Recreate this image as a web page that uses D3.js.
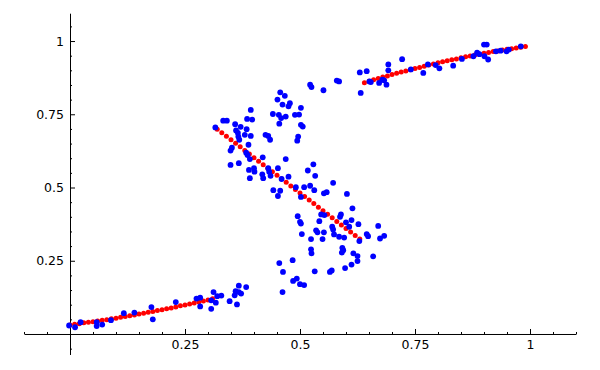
<!DOCTYPE html>
<html>
<head>
<meta charset="utf-8">
<script src="https://cdn.jsdelivr.net/npm/d3@7"></script>
<style>
    body { margin: 0; background: #fff; }
    .axis text { font-family: "DejaVu Sans", sans-serif; font-size: 12.5px; fill: #000; }
    .axis path, .axis line { stroke: #000; }
</style>
</head>
<body>
<div id="chart-area"></div>
<script>

// fitted curve, three branches (x, y)
var lowerBranch = [
    [0.00,0.031],[0.01,0.033],[0.02,0.035],[0.03,0.038],[0.04,0.040],[0.05,0.042],[0.06,0.044],[0.07,0.047],
    [0.08,0.049],[0.09,0.052],[0.10,0.054],[0.11,0.057],[0.12,0.060],[0.13,0.062],[0.14,0.065],[0.15,0.068],
    [0.16,0.071],[0.17,0.074],[0.18,0.077],[0.19,0.080],[0.20,0.083],[0.21,0.086],[0.22,0.089],[0.23,0.092],
    [0.24,0.096],[0.25,0.099],[0.26,0.102],[0.27,0.106],[0.28,0.109],[0.29,0.113],[0.30,0.116],[0.31,0.120]
];

var middleBranch = [
    [0.32,0.699],[0.33,0.687],[0.34,0.675],[0.35,0.663],[0.36,0.651],[0.37,0.639],[0.38,0.626],[0.39,0.614],
    [0.40,0.602],[0.41,0.590],[0.42,0.578],[0.43,0.566],[0.44,0.554],[0.45,0.542],[0.46,0.530],[0.47,0.518],
    [0.48,0.505],[0.49,0.493],[0.50,0.481],[0.51,0.469],[0.52,0.457],[0.53,0.445],[0.54,0.433],[0.55,0.421],
    [0.56,0.409],[0.57,0.397],[0.58,0.384],[0.59,0.372],[0.60,0.360],[0.61,0.348],[0.62,0.336],[0.63,0.324]
];

var upperBranch = [
    [0.64,0.858],[0.65,0.863],[0.66,0.868],[0.67,0.872],[0.68,0.877],[0.69,0.881],[0.70,0.886],[0.71,0.890],
    [0.72,0.894],[0.73,0.898],[0.74,0.902],[0.75,0.906],[0.76,0.910],[0.77,0.914],[0.78,0.918],[0.79,0.922],
    [0.80,0.926],[0.81,0.929],[0.82,0.933],[0.83,0.936],[0.84,0.939],[0.85,0.943],[0.86,0.946],[0.87,0.949],
    [0.88,0.952],[0.89,0.955],[0.90,0.958],[0.91,0.961],[0.92,0.964],[0.93,0.966],[0.94,0.969],[0.95,0.972],
    [0.96,0.974],[0.97,0.976],[0.98,0.979],[0.99,0.981]
];

// observed samples (x, y)
var samples = [
    [-0.002,0.029],[0.011,0.023],[0.023,0.040],[0.058,0.040],[0.058,0.027],[0.070,0.032],[0.089,0.047],
    [0.117,0.071],[0.140,0.073],[0.177,0.092],[0.180,0.050],[0.230,0.109],[0.275,0.121],
    [0.283,0.124],[0.283,0.094],[0.307,0.115],[0.307,0.086],[0.312,0.143],[0.317,0.107],[0.320,0.129],
    [0.329,0.131],[0.347,0.112],[0.358,0.132],[0.360,0.146],[0.363,0.101],[0.367,0.165],[0.367,0.143],
    [0.372,0.138],[0.383,0.160],[0.455,0.242],[0.484,0.252],[0.463,0.212],[0.462,0.143],[0.485,0.181],
    [0.493,0.189],[0.500,0.170],[0.509,0.167],[0.532,0.214],
    [0.522,0.851],[0.525,0.843],[0.457,0.825],[0.467,0.813],[0.451,0.800],[0.462,0.783],[0.478,0.788],
    [0.475,0.777],[0.393,0.765],[0.441,0.751],[0.454,0.748],[0.459,0.737],[0.469,0.742],[0.489,0.748],
    [0.498,0.749],[0.502,0.772],[0.333,0.728],[0.341,0.728],[0.385,0.734],[0.396,0.732],[0.455,0.718],
    [0.359,0.716],[0.371,0.707],[0.316,0.705],[0.361,0.695],[0.384,0.699],[0.502,0.714],[0.506,0.708],
    [0.365,0.686],[0.380,0.680],[0.393,0.676],[0.366,0.674],[0.368,0.663],[0.425,0.680],[0.431,0.676],
    [0.435,0.663],[0.496,0.674],[0.494,0.660],[0.388,0.646],[0.352,0.636],[0.349,0.626],[0.383,0.619],
    [0.386,0.611],[0.391,0.597],[0.419,0.603],[0.469,0.597],[0.349,0.577],[0.367,0.583],[0.389,0.560],
    [0.400,0.566],[0.401,0.554],[0.418,0.545],[0.420,0.532],[0.391,0.532],[0.431,0.566],[0.433,0.554],
    [0.452,0.566],[0.436,0.540],[0.460,0.529],[0.475,0.537],[0.517,0.558],
    [0.551,0.832],[0.580,0.865],[0.585,0.862],[0.529,0.579],[0.533,0.540],
    [0.442,0.491],[0.457,0.489],[0.452,0.471],[0.491,0.501],[0.509,0.501],[0.522,0.506],[0.502,0.468],
    [0.495,0.402],[0.500,0.383],[0.502,0.377],[0.504,0.341],
    [0.531,0.491],[0.572,0.516],[0.552,0.480],[0.558,0.484],[0.602,0.478],[0.614,0.429],[0.589,0.408],
    [0.587,0.400],[0.546,0.408],[0.553,0.406],[0.542,0.385],[0.600,0.381],[0.612,0.389],[0.627,0.375],
    [0.607,0.366],[0.570,0.366],[0.572,0.357],[0.535,0.354],[0.538,0.347],[0.552,0.347],[0.574,0.340],
    [0.585,0.332],[0.596,0.329],[0.670,0.369],[0.645,0.341],[0.648,0.334],[0.683,0.335],[0.674,0.326],
    [0.629,0.317],[0.524,0.324],[0.549,0.324],[0.524,0.289],[0.525,0.275],[0.592,0.294],[0.594,0.286],
    [0.591,0.278],[0.616,0.275],[0.625,0.266],[0.659,0.265],[0.625,0.249],[0.612,0.237],[0.598,0.225],
    [0.565,0.212],[0.569,0.217],
    [0.630,0.893],[0.645,0.897],[0.632,0.823],[0.651,0.862],[0.654,0.860],[0.672,0.857],[0.679,0.868],
    [0.683,0.866],[0.688,0.851],[0.692,0.920],[0.692,0.900],[0.722,0.938],[0.741,0.903],[0.768,0.891],
    [0.778,0.920],[0.795,0.918],[0.803,0.907],[0.833,0.916],[0.852,0.939],
    [0.877,0.948],[0.885,0.960],[0.890,0.955],[0.900,0.988],[0.906,0.988],[0.901,0.948],[0.909,0.937],
    [0.926,0.965],[0.936,0.967],[0.949,0.965],[0.954,0.971],[0.980,0.982]
];

// axis extents and ticks
var xExtent = [-0.1, 1.1];
var yExtent = [-0.07, 1.095];
var xMajorTicks = [0.25, 0.5, 0.75, 1];
var yMajorTicks = [0.25, 0.5, 0.75, 1];
var xTickLabels = ["0.25", "0.5", "0.75", "1"];
var yTickLabels = ["0.25", "0.5", "0.75", "1"];


/*
 * CurveVis - scatter of samples with the fitted curve on top
 */

CurveVis = function(_parentElement, _branches, _samples) {
    this.parentElement = _parentElement;
    this.branches = _branches;
    this.samples = _samples;

    this.initVis();
};

CurveVis.prototype.initVis = function() {
    var vis = this;

    vis.margin = { top: 13.2, right: 24, bottom: 15.5, left: 24 };

    vis.width = 600 - vis.margin.left - vis.margin.right;
    vis.height = 370 - vis.margin.top - vis.margin.bottom;

    vis.svg = d3.select("#" + vis.parentElement).append("svg")
        .attr("width", 600)
        .attr("height", 370)
        .append("g")
        .attr("transform", "translate(" + vis.margin.left + "," + vis.margin.top + ")");

    vis.x = d3.scaleLinear()
        .domain(xExtent)
        .range([0, vis.width]);

    vis.y = d3.scaleLinear()
        .domain(yExtent)
        .range([vis.height, 0]);

    var isMajor = function(v) {
        return xMajorTicks.some(function(m) { return Math.abs(m - v) < 1e-9; }) || Math.abs(v) < 1e-9;
    };
    vis.xMinor = d3.range(-0.1, 1.1001, 0.05).filter(function(v) { return !isMajor(v); });
    vis.yMinor = d3.range(-0.05, 1.0501, 0.05).filter(function(v) { return !isMajor(v); });

    // x axis, ticks pointing up
    vis.xAxis = d3.axisBottom(vis.x)
        .tickValues(xMajorTicks)
        .tickFormat(function(d, i) { return xTickLabels[i]; })
        .tickSizeInner(-5)
        .tickSizeOuter(0)
        .tickPadding(6.5);

    vis.xAxisMinor = d3.axisBottom(vis.x)
        .tickValues(vis.xMinor)
        .tickFormat("")
        .tickSizeInner(-2)
        .tickSizeOuter(0);

    // y axis, ticks pointing right
    vis.yAxis = d3.axisLeft(vis.y)
        .tickValues(yMajorTicks)
        .tickFormat(function(d, i) { return yTickLabels[i]; })
        .tickSizeInner(-5)
        .tickSizeOuter(0)
        .tickPadding(6);

    vis.yAxisMinor = d3.axisLeft(vis.y)
        .tickValues(vis.yMinor)
        .tickFormat("")
        .tickSizeInner(-2)
        .tickSizeOuter(0);

    vis.svg.append("g")
        .attr("class", "x-axis axis")
        .attr("transform", "translate(0," + vis.y(0) + ")")
        .call(vis.xAxis);

    vis.svg.append("g")
        .attr("class", "x-axis-minor axis")
        .attr("transform", "translate(0," + vis.y(0) + ")")
        .call(vis.xAxisMinor)
        .select(".domain").remove();

    vis.svg.append("g")
        .attr("class", "y-axis axis")
        .attr("transform", "translate(" + vis.x(0) + ",0)")
        .call(vis.yAxis);

    vis.svg.append("g")
        .attr("class", "y-axis-minor axis")
        .attr("transform", "translate(" + vis.x(0) + ",0)")
        .call(vis.yAxisMinor)
        .select(".domain").remove();

    vis.svg.selectAll(".axis text").attr("fill", "#000");

    vis.updateVis();
};

CurveVis.prototype.updateVis = function() {
    var vis = this;

    var curvePoints = vis.branches.reduce(function(a, b) { return a.concat(b); }, []);

    vis.svg.selectAll(".fit")
        .data(curvePoints)
        .enter().append("circle")
        .attr("class", "fit")
        .attr("cx", function(d) { return vis.x(d[0]); })
        .attr("cy", function(d) { return vis.y(d[1]); })
        .attr("r", 2.5)
        .style("fill", "#ff0000");

    vis.svg.selectAll(".sample")
        .data(vis.samples)
        .enter().append("circle")
        .attr("class", "sample")
        .attr("cx", function(d) { return vis.x(d[0]); })
        .attr("cy", function(d) { return vis.y(d[1]); })
        .attr("r", 2.9)
        .style("fill", "#0000ff");
};

var curveVis = new CurveVis("chart-area", [lowerBranch, middleBranch, upperBranch], samples);

</script>
</body>
</html>
